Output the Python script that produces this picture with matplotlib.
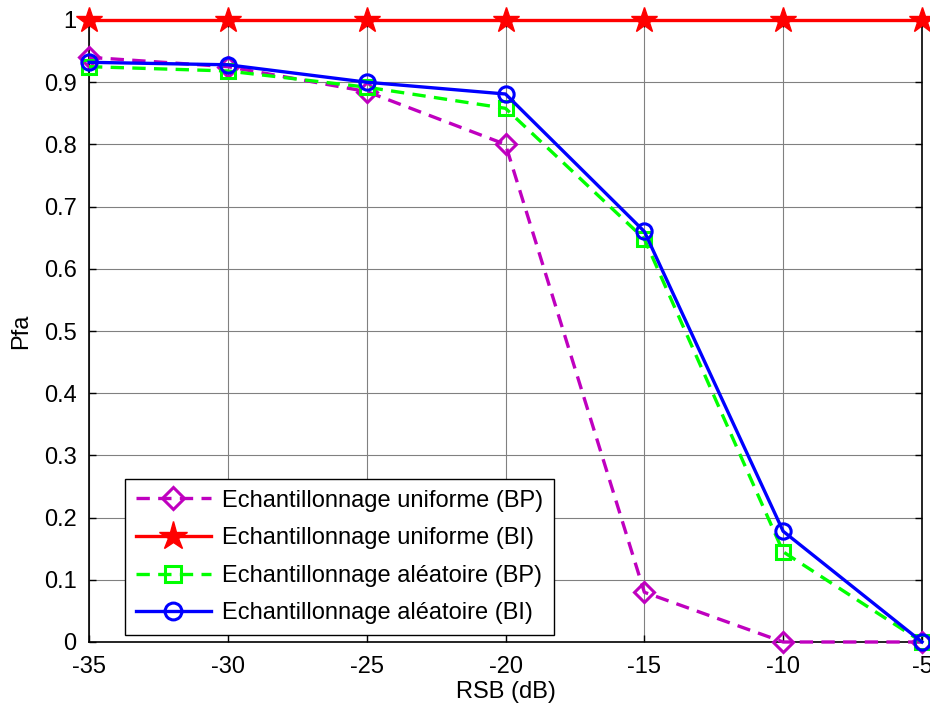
import matplotlib
matplotlib.use("Agg")
import matplotlib.pyplot as plt

plt.rcParams['font.family'] = ['Liberation Sans', 'DejaVu Sans']

rsb = [-35, -30, -25, -20, -15, -10, -5]
unif_bp = [0.94, 0.925, 0.885, 0.80, 0.08, 0.0, 0.0]
unif_bi = [1, 1, 1, 1, 1, 1, 1]
alea_bp = [0.925, 0.918, 0.892, 0.858, 0.648, 0.145, 0.0]
alea_bi = [0.932, 0.928, 0.900, 0.881, 0.660, 0.178, 0.0]

labels = ['Echantillonnage uniforme (BP)', 'Echantillonnage uniforme (BI)',
          'Echantillonnage aléatoire (BP)', 'Echantillonnage aléatoire (BI)']
xticks = [-35, -30, -25, -20, -15, -10, -5]
yticks = [0, 0.1, 0.2, 0.3, 0.4, 0.5, 0.6, 0.7, 0.8, 0.9, 1]
ytick_labels = ['0', '0.1', '0.2', '0.3', '0.4', '0.5', '0.6', '0.7', '0.8', '0.9', '1']

FS = 17

fig = plt.figure(figsize=(9.30, 7.13), dpi=100)
ax = fig.add_axes([89/930, 1 - 642/713, (922-89)/930, (642-20)/713])

common = dict(linewidth=2.4, clip_on=False, zorder=3)
ax.plot(rsb, unif_bp, color='#BF00BF', linestyle='--', dashes=(4, 2.5),
        marker='D', markersize=10, markerfacecolor='none', markeredgewidth=2.2, label=labels[0], **common)
ax.plot(rsb, unif_bi, color='#FF0000', linestyle='-',
        marker='*', markersize=19, markerfacecolor='#FF0000', markeredgewidth=1, label=labels[1], **common)
ax.plot(rsb, alea_bp, color='#00FF00', linestyle='--', dashes=(4, 2.5),
        marker='s', markersize=10, markerfacecolor='none', markeredgewidth=2.2, label=labels[2], **common)
ax.plot(rsb, alea_bi, color='#0000FF', linestyle='-',
        marker='o', markersize=11, markerfacecolor='none', markeredgewidth=2.2, label=labels[3], **common)

ax.set_xlim(-35, -5)
ax.set_ylim(0, 1)
ax.set_xticks(xticks)
ax.set_xticklabels([str(t) for t in xticks])
ax.set_yticks(yticks)
ax.set_yticklabels(ytick_labels)
ax.tick_params(direction='in', top=True, right=True, labelsize=FS, length=5, width=1)
ax.tick_params(axis='x', pad=10)
ax.tick_params(axis='y', pad=9)
ax.grid(True, color='#808080', linewidth=0.8, linestyle='-')
ax.set_axisbelow(True)
for s in ax.spines.values():
    s.set_linewidth(1.2)

ax.set_xlabel('RSB (dB)', fontsize=FS, labelpad=2)
ax.set_ylabel('Pfa', fontsize=FS, labelpad=8)

leg = ax.legend(loc='lower left', bbox_to_anchor=(36/833, 7/622), fontsize=FS, fancybox=False,
                framealpha=1, edgecolor='black', borderpad=0.45, handlelength=3.2,
                labelspacing=0.66, handletextpad=0.45, borderaxespad=0, markerscale=1.1)
leg.get_frame().set_linewidth(1)

fig.savefig('out.png', dpi=100)
